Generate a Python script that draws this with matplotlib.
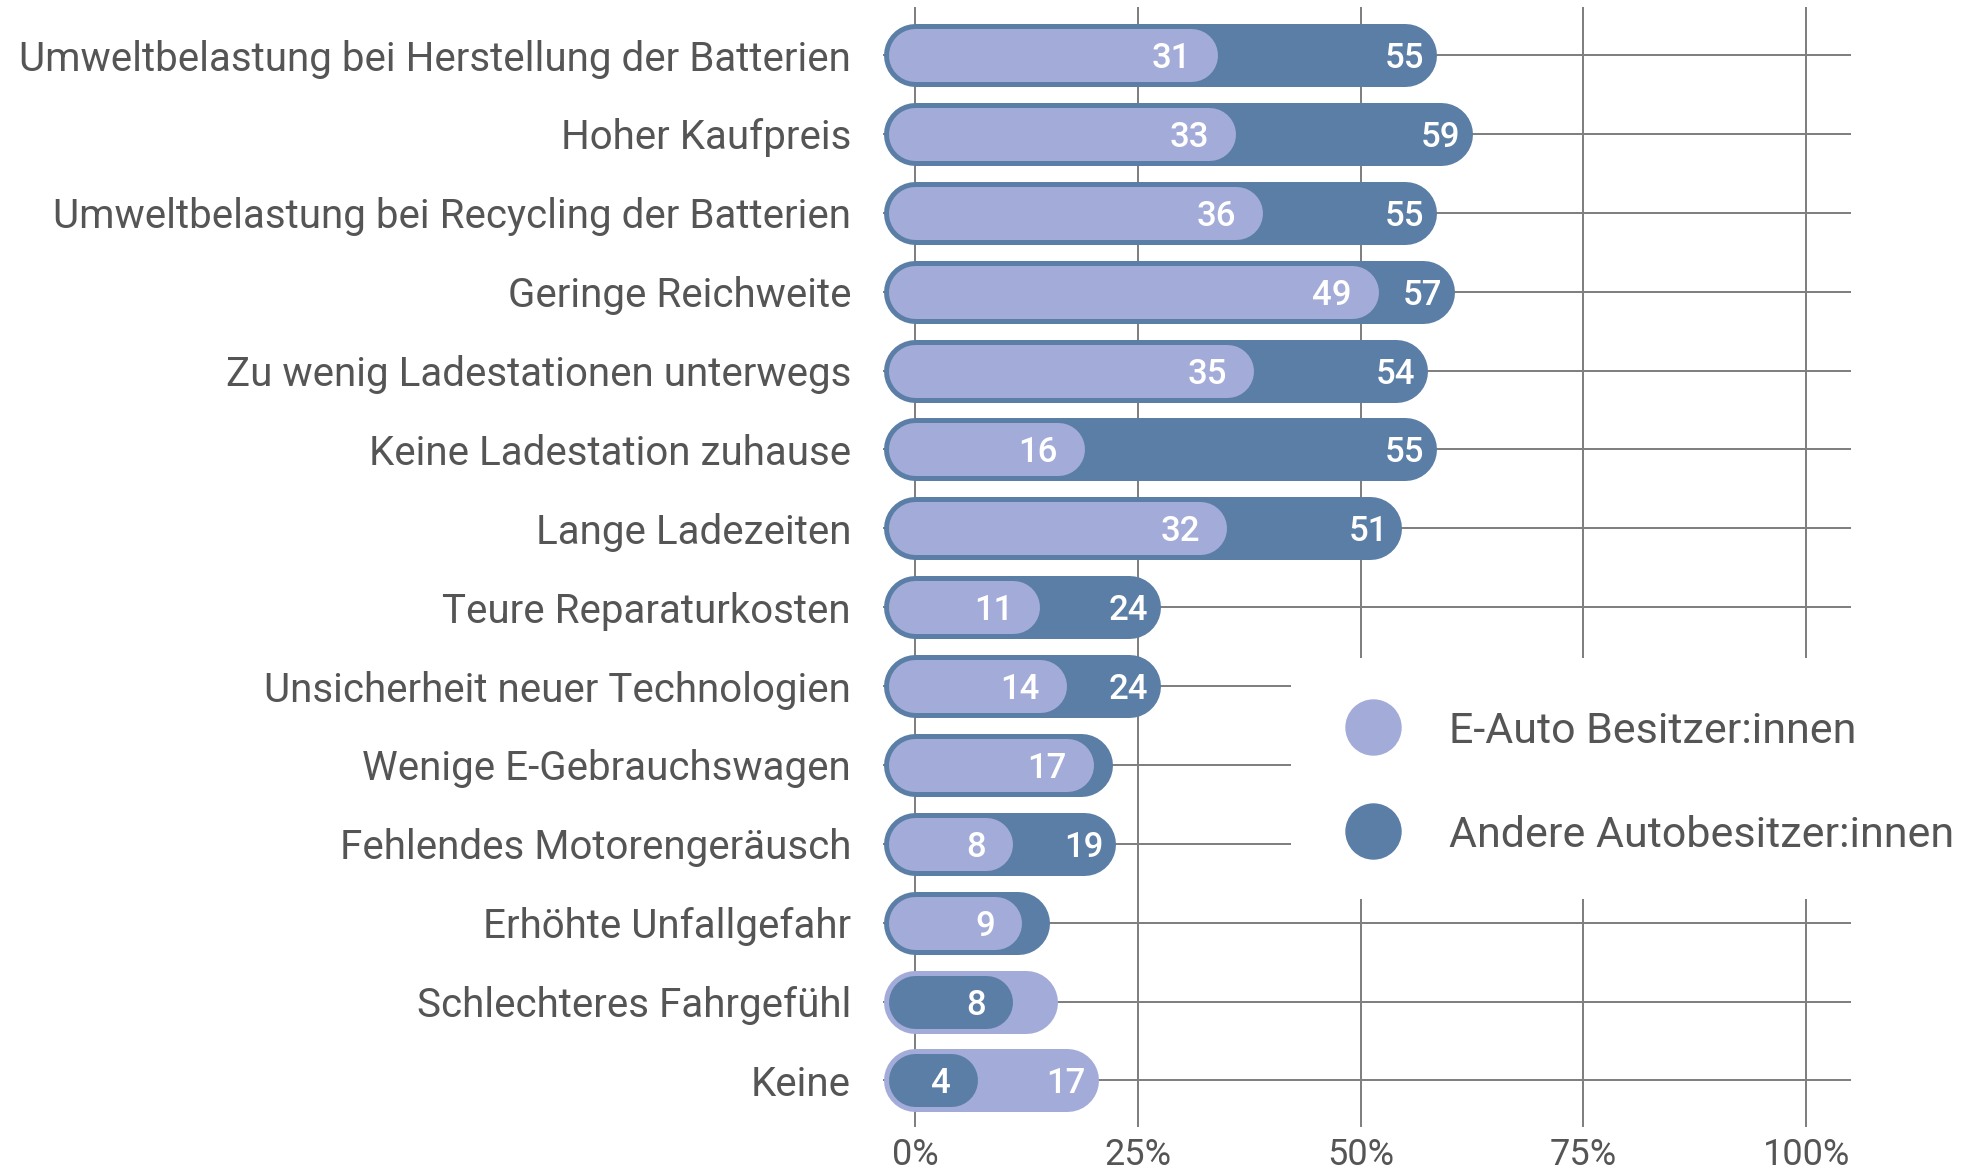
import matplotlib.pyplot as plt
from matplotlib.patches import Rectangle

# data, top row first
categories = [
    "Umweltbelastung bei Herstellung der Batterien",
    "Hoher Kaufpreis",
    "Umweltbelastung bei Recycling der Batterien",
    "Geringe Reichweite",
    "Zu wenig Ladestationen unterwegs",
    "Keine Ladestation zuhause",
    "Lange Ladezeiten",
    "Teure Reparaturkosten",
    "Unsicherheit neuer Technologien",
    "Wenige E-Gebrauchswagen",
    "Fehlendes Motorengeräusch",
    "Erhöhte Unfallgefahr",
    "Schlechteres Fahrgefühl",
    "Keine",
]
e_auto = [31, 33, 36, 49, 35, 16, 32, 11, 14, 17, 8, 9, 12.4, 17]
andere = [55, 59, 55, 57, 54, 55, 51, 24, 24, 18.6, 19, 11.5, 8, 4]
series_names = ["E-Auto Besitzer:innen", "Andere Autobesitzer:innen"]
x_ticks = [0, 25, 50, 75, 100]
x_tick_labels = ["0%", "25%", "50%", "75%", "100%"]

LIGHT = "#A3ACD9"
DARK = "#5A7EA6"
TEXT = "#555555"
GRID = "#808080"
FONT = ["Roboto", "DejaVu Sans"]

plt.rcParams["font.family"] = FONT

DPI = 100
fig = plt.figure(figsize=(19.69, 11.76), dpi=DPI)
ax = fig.add_axes([0.4421, 0.04167, 0.5295, 0.95238])
ax.set_xlim(-5, 112)
ax.set_ylim(13.59, -0.61)
for spine in ax.spines.values():
    spine.set_visible(False)

px = 72 / DPI  # pixels -> points
outer_lw = 63 * px
inner_lw = 53 * px

# grid
n = len(categories)
ax.vlines(x_ticks, -0.61, 13.59, color=GRID, lw=2 * px, zorder=0)
ax.hlines(range(n), -3.6, 105, color=GRID, lw=2 * px, zorder=0)
# white area behind the legend
ax.add_patch(Rectangle((42.2, 7.65), 80, 3.05, facecolor="white",
                       edgecolor="none", zorder=1, clip_on=False))

for i, (a, b) in enumerate(zip(e_auto, andere)):
    if a >= b:
        big, small, big_c, small_c = a, b, LIGHT, DARK
    else:
        big, small, big_c, small_c = b, a, DARK, LIGHT
    ax.plot([0, big], [i, i], color=big_c, lw=outer_lw,
            solid_capstyle="round", zorder=2, clip_on=False)
    ax.plot([0, small], [i, i], color=small_c, lw=inner_lw,
            solid_capstyle="round", zorder=3, clip_on=False)
    ax.annotate(f"{small:g}", (small, i), xytext=(0, 0), textcoords="offset points",
                ha="right", va="center_baseline", color="white", fontsize=25,
                fontweight="medium", zorder=4)
    if big - small >= 5:
        ax.annotate(f"{big:g}", (big, i), xytext=(19 * px, 0), textcoords="offset points",
                    ha="right", va="center_baseline", color="white", fontsize=25,
                    fontweight="medium", zorder=4)

ax.set_yticks(range(n), categories)
ax.set_xticks(x_ticks, x_tick_labels)
ax.tick_params(axis="y", length=0, pad=14, labelsize=29, labelcolor=TEXT)
ax.tick_params(axis="x", length=0, pad=7, labelsize=26, labelcolor=TEXT)

# legend
legend_y = [8.52, 9.84]
for y, color, name in zip(legend_y, [LIGHT, DARK], series_names):
    ax.scatter([51.4], [y], s=(55 * px) ** 2, color=color, zorder=4, clip_on=False)
    ax.text(59.9, y, name, ha="left", va="center_baseline", fontsize=31,
            color=TEXT, zorder=4, clip_on=False)

fig.savefig("out.png", dpi=DPI, facecolor="white")
